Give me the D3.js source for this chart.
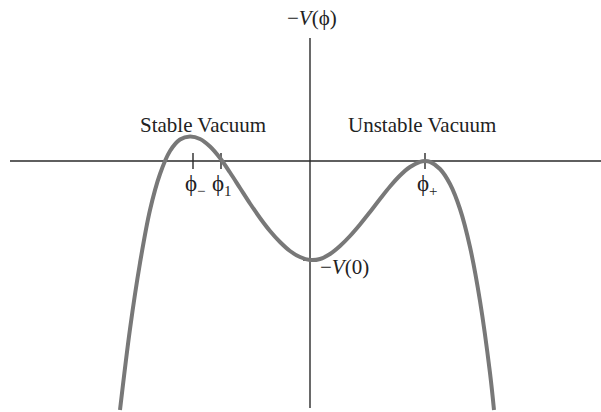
<!DOCTYPE html>
<html>
<head>
<meta charset="utf-8">
<script src="https://cdn.jsdelivr.net/npm/d3@7"></script>
<style>
  html, body { margin: 0; padding: 0; background: #fff; }
  svg text { font-family: "Liberation Serif", "Times New Roman", serif; fill: #222; }
</style>
</head>
<body>
<svg id="chart" width="601" height="412"></svg>
<script>
// Curve samples: field value phi and -V(phi)
const phi  = [-1.90, -1.80, -1.70, -1.60, -1.50, -1.40, -1.30, -1.20, -1.10, -1.00, -0.90, -0.80, -0.70, -0.60, -0.50, -0.40, -0.30, -0.20, -0.10, 0, 0.10, 0.20, 0.30, 0.40, 0.50, 0.60, 0.70, 0.80, 0.90, 1.00, 1.10, 1.15, 1.20, 1.30, 1.40, 1.50, 1.60, 1.70, 1.80, 1.84];
const negV = [-2.49, -1.68, -1.02, -0.49, -0.13, 0.10, 0.215, 0.245, 0.22, 0.145, 0.03, -0.115, -0.27, -0.425, -0.57, -0.70, -0.81, -0.90, -0.96, -0.99, -0.98, -0.93, -0.85, -0.75, -0.635, -0.51, -0.38, -0.255, -0.145, -0.06, -0.008, 0, -0.008, -0.08, -0.23, -0.48, -0.86, -1.40, -2.12, -2.49];

// Marked points on the phi axis
const tickNames = ["ϕ", "ϕ", "ϕ"];
const tickSubs  = ["−", "1", "+"];
const tickPhi   = [-1.17, -0.89, 1.15];
const v0 = -0.99;  // -V(0)

// Region labels
const regionLabels = ["Stable Vacuum", "Unstable Vacuum"];
const regionPhi    = [-1.70, 0.38];
const regionV      = [0.29, 0.29];

const svg = d3.select("#chart");
const x = d3.scaleLinear().domain([-3.0, 2.91]).range([10, 601]);
const y = d3.scaleLinear().domain([-2.49, 1.23]).range([410, 38]);

const axisColor = "#2a2a2a";

// Horizontal axis
svg.append("line")
  .attr("x1", x(-3.0)).attr("x2", x(2.91))
  .attr("y1", y(0)).attr("y2", y(0))
  .attr("stroke", axisColor).attr("stroke-width", 1.4);

// Vertical axis
svg.append("line")
  .attr("x1", x(0)).attr("x2", x(0))
  .attr("y1", y(1.23)).attr("y2", y(-2.47))
  .attr("stroke", axisColor).attr("stroke-width", 1.4);

// Ticks on phi axis
svg.selectAll("line.tick").data(tickPhi).enter().append("line")
  .attr("class", "tick")
  .attr("x1", d => x(d)).attr("x2", d => x(d))
  .attr("y1", y(0) - 8).attr("y2", y(0) + 8)
  .attr("stroke", axisColor).attr("stroke-width", 1.4);

// Tick at -V(0)
svg.append("line")
  .attr("x1", x(0) - 7).attr("x2", x(0) + 7)
  .attr("y1", y(v0)).attr("y2", y(v0))
  .attr("stroke", axisColor).attr("stroke-width", 1.4);

// Curve
const pts = phi.map((p, i) => [p, negV[i]]);
const line = d3.line()
  .x(d => x(d[0])).y(d => y(d[1]))
  .curve(d3.curveCatmullRom.alpha(0.5));
svg.append("path")
  .datum(pts)
  .attr("d", line)
  .attr("fill", "none")
  .attr("stroke", "#787878")
  .attr("stroke-width", 4);

// Tick labels
const tickOffsets = [-8, -9, -8];
tickPhi.forEach((p, i) => {
  const t = svg.append("text")
    .attr("x", x(p) + tickOffsets[i])
    .attr("y", y(0) + 30)
    .attr("font-size", 23);
  t.append("tspan").text(tickNames[i]);
  t.append("tspan").attr("font-size", 15).attr("dy", 5).text(tickSubs[i]);
});

// Region labels
regionLabels.forEach((s, i) => {
  svg.append("text")
    .attr("x", x(regionPhi[i]))
    .attr("y", y(regionV[i]))
    .attr("font-size", 21)
    .text(s);
});

// Y-axis title
const yt = svg.append("text").attr("x", x(0) - 23).attr("y", 25).attr("font-size", 21);
yt.append("tspan").text("−");
yt.append("tspan").attr("font-style", "italic").text("V");
yt.append("tspan").text("(ϕ)");

// -V(0) label
const vt = svg.append("text").attr("x", x(0) + 10).attr("y", y(v0) + 14).attr("font-size", 21);
vt.append("tspan").text("−");
vt.append("tspan").attr("font-style", "italic").text("V");
vt.append("tspan").text("(0)");
</script>
</body>
</html>
